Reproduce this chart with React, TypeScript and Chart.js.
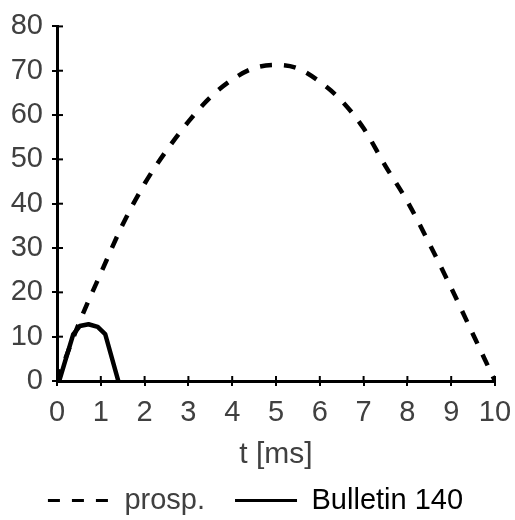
import React, { useEffect, useRef } from "react";
import { Chart, registerables } from "chart.js";

Chart.register(...registerables);

const prospT = [0, 0.5, 1, 1.5, 2, 2.5, 3, 3.5, 4, 4.5, 5, 5.5, 6, 6.5, 7, 7.5, 8, 8.5, 9, 9.5, 10];
const prospV = [0, 13, 24.3, 35.3, 44.5, 52, 58.5, 64, 68, 70.6, 71.3, 70.5, 67.5, 63.2, 57, 48.5, 40.5, 31, 21, 10.5, 0];

const bulletinT = [0.05, 0.37, 0.52, 0.72, 0.93, 1.1, 1.4];
const bulletinV = [0, 10.5, 12.4, 12.8, 12.2, 10.6, 0];

const seriesLabels = ["prosp.", "Bulletin 140"];
const xTitle = "t [ms]";

const FONT = "'Liberation Sans', Arial, sans-serif";
const GREY = "#404040";
const DASH = [12, 12];

const crossTicks = {
  id: "crossTicks",
  afterDraw(chart: any) {
    const { ctx, scales } = chart;
    const x = scales.x;
    const y = scales.y;
    ctx.save();
    ctx.strokeStyle = "#000";
    ctx.lineWidth = 2;
    x.ticks.forEach((t: any) => {
      const px = x.getPixelForValue(t.value);
      ctx.beginPath();
      ctx.moveTo(px, x.top);
      ctx.lineTo(px, x.top - 5);
      ctx.stroke();
    });
    y.ticks.forEach((t: any) => {
      const py = y.getPixelForValue(t.value);
      ctx.beginPath();
      ctx.moveTo(y.right, py);
      ctx.lineTo(y.right + 6, py);
      ctx.stroke();
    });
    ctx.restore();
  },
};

export default function App() {
  const ref = useRef<HTMLCanvasElement>(null);
  useEffect(() => {
    if (!ref.current) return;
    const chart = new Chart(ref.current, {
      type: "scatter",
      data: {
        datasets: [
          {
            label: seriesLabels[0],
            data: prospT.map((t, i) => ({ x: t, y: prospV[i] })),
            showLine: true,
            borderColor: "#000",
            backgroundColor: "#000",
            borderWidth: 4.5,
            borderDash: DASH,
            pointRadius: 0,
            cubicInterpolationMode: "monotone",
          },
          {
            label: seriesLabels[1],
            data: bulletinT.map((t, i) => ({ x: t, y: bulletinV[i] })),
            showLine: true,
            borderColor: "#000",
            backgroundColor: "#000",
            borderWidth: 4.5,
            pointRadius: 0,
            borderJoinStyle: "round",
          },
        ],
      } as any,
      options: {
        animation: false,
        responsive: true,
        maintainAspectRatio: false,
        layout: { padding: { top: 25, right: 4, left: 0, bottom: -5 } },
        plugins: {
          tooltip: { enabled: false },
          legend: {
            position: "bottom",
            labels: {
              usePointStyle: true,
              pointStyle: "line",
              pointStyleWidth: 62,
              padding: 30,
              font: { family: FONT, size: 29 },
              color: GREY,
              generateLabels(chart: any) {
                const items = Chart.defaults.plugins.legend.labels.generateLabels(chart);
                items.forEach((it: any, i: number) => {
                  it.fontColor = i === 0 ? GREY : "#000";
                  it.lineWidth = 3;
                  it.pointStyle = "line";
                  it.lineDash = i === 0 ? DASH : [];
                });
                return items;
              },
            },
          },
        },
        scales: {
          x: {
            type: "linear",
            min: 0,
            max: 10,
            afterFit(scale: any) {
              scale.height = 75;
              scale.paddingRight = 20;
              scale.paddingLeft = 0;
            },
            ticks: {
              stepSize: 1,
              padding: 10,
              color: GREY,
              font: { family: FONT, size: 29 },
              maxRotation: 0,
            },
            grid: {
              drawOnChartArea: false,
              drawTicks: true,
              tickLength: 5,
              color: "#000",
              lineWidth: 2,
            },
            border: { display: true, color: "#000", width: 3 },
            title: {
              display: true,
              text: xTitle,
              color: GREY,
              font: { family: FONT, size: 30 },
              padding: { top: 0, bottom: -17 },
            },
          },
          y: {
            type: "linear",
            min: 0,
            max: 80,
            afterFit(scale: any) {
              scale.width = 57;
            },
            ticks: {
              stepSize: 10,
              padding: 9,
              color: GREY,
              font: { family: FONT, size: 29 },
            },
            grid: {
              drawOnChartArea: false,
              drawTicks: true,
              tickLength: 5,
              color: "#000",
              lineWidth: 2,
            },
            border: { display: true, color: "#000", width: 3 },
          },
        },
      } as any,
      plugins: [crossTicks],
    });
    return () => chart.destroy();
  }, []);
  return (
    <div style={{ position: "fixed", left: 0, top: 0, width: 515, height: 520, background: "#fff" }}>
      <canvas ref={ref} />
    </div>
  );
}
